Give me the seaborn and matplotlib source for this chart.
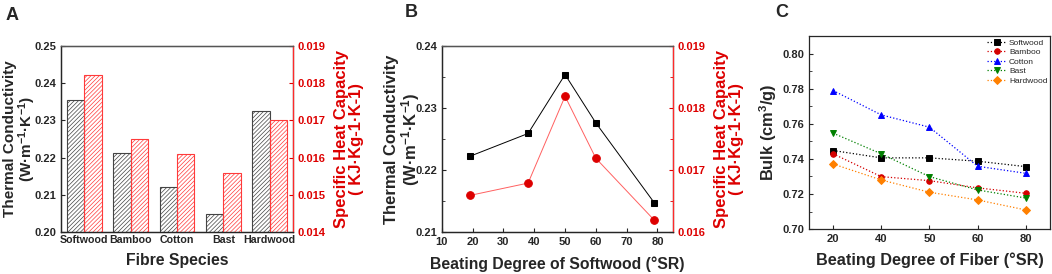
import numpy as np
import pandas as pd
import seaborn as sns
import matplotlib.pyplot as plt
from matplotlib.ticker import MultipleLocator, AutoMinorLocator, FormatStrFormatter

sns.set_style('ticks')
plt.rcParams['font.family'] = ['Liberation Sans', 'DejaVu Sans']
plt.rcParams['font.weight'] = 'bold'
plt.rcParams['axes.labelweight'] = 'bold'
plt.rcParams['mathtext.fontset'] = 'custom'
plt.rcParams['mathtext.rm'] = 'Liberation Sans:bold'
plt.rcParams['mathtext.bf'] = 'Liberation Sans:bold'
plt.rcParams['mathtext.default'] = 'rm'
plt.rcParams['xtick.direction'] = 'in'
plt.rcParams['ytick.direction'] = 'in'
plt.rcParams['hatch.linewidth'] = 0.5
plt.rcParams['axes.linewidth'] = 0.9

# data
species = ['Softwood', 'Bamboo', 'Cotton', 'Bast', 'Hardwood']
tc_species = [0.2354, 0.2212, 0.2122, 0.2049, 0.2326]
shc_species = [0.01822, 0.0165, 0.0161, 0.0156, 0.0170]

beat_sw = [19, 38, 50, 60, 79]
tc_beat = [0.2222, 0.2259, 0.2354, 0.2276, 0.2147]
shc_beat = [0.01659, 0.01679, 0.01819, 0.01719, 0.01619]

beat_deg = ['20', '40', '50', '60', '80']
bulk_softwood = [0.7448, 0.7406, 0.7406, 0.7387, 0.7356]
bulk_bamboo = [0.7429, 0.7299, 0.7276, 0.7235, 0.7204]
bulk_cotton = [0.7790, 0.7651, 0.7581, 0.7358, 0.7318]
bulk_bast = [0.7547, 0.7429, 0.7299, 0.7223, 0.7177]
bulk_hardwood = [0.7371, 0.7280, 0.7210, 0.7166, 0.7109]

RED = '#dd0000'
tick_fs = 8

fig = plt.figure(figsize=(10.52, 2.74), dpi=100)

# ---------- A ----------
axA = fig.add_axes([0.058, 0.153, 0.2205, 0.679])
axA2 = axA.twinx()
dfA = pd.DataFrame({'species': species * 2,
                    'kind': ['tc'] * 5 + ['shc'] * 5,
                    'value': tc_species + shc_species})
pal = {'tc': '#333333', 'shc': '#ff2a2a'}
sns.barplot(data=dfA[dfA.kind == 'tc'], x='species', y='value', hue='kind',
            hue_order=['tc', 'shc'], order=species, palette=pal, fill=False,
            dodge=True, width=0.75, legend=False, linewidth=0.8, ax=axA)
sns.barplot(data=dfA[dfA.kind == 'shc'], x='species', y='value', hue='kind',
            hue_order=['tc', 'shc'], order=species, palette=pal, fill=False,
            dodge=True, width=0.75, legend=False, linewidth=0.8, ax=axA2)
for ax, col in [(axA, '#444444'), (axA2, '#ff3a3a')]:
    for p in ax.patches:
        p.set_hatch('////////')
        p.set_edgecolor(col)
axA.set_ylim(0.20, 0.25)
axA2.set_ylim(0.014, 0.019)
axA.set_xlim(-0.5, 4.5)
axA.yaxis.set_major_locator(MultipleLocator(0.01))
axA.yaxis.set_major_formatter(FormatStrFormatter('%.2f'))
axA2.yaxis.set_major_locator(MultipleLocator(0.001))
axA2.yaxis.set_major_formatter(FormatStrFormatter('%.3f'))
axA.tick_params(axis='y', labelsize=tick_fs, length=3)
axA.tick_params(axis='x', labelsize=tick_fs - 0.3, length=0, pad=2)
axA2.tick_params(axis='y', labelsize=tick_fs, colors=RED, length=3)
axA2.spines['right'].set_color('#ff2a2a')
axA2.spines['top'].set_color('#555555')
axA.set_xlabel('Fibre Species', fontsize=11.3, labelpad=6)
axA.set_ylabel('Thermal Conductivity\n(W·m$^{-1}$·K$^{-1}$)', fontsize=11,
               linespacing=1.0, labelpad=-3)
axA2.set_ylabel('Specific Heat Capacity\n( KJ·Kg-1·K-1)', fontsize=12,
                color=RED, linespacing=1.0, labelpad=6)

# ---------- B ----------
axB = fig.add_axes([0.420, 0.153, 0.2196, 0.679])
axB2 = axB.twinx()
sns.lineplot(x=beat_sw, y=tc_beat, marker='s', color='black', markersize=5,
             markeredgecolor='black', linewidth=0.7, ax=axB)
sns.lineplot(x=beat_sw, y=shc_beat, marker='o', color='#ff6060', markersize=5.5,
             markerfacecolor=RED, markeredgecolor=RED, linewidth=0.7, ax=axB2)
axB.set_xlim(10, 85)
axB.set_ylim(0.21, 0.24)
axB2.set_ylim(0.016, 0.019)
axB.xaxis.set_major_locator(MultipleLocator(10))
axB.yaxis.set_major_locator(MultipleLocator(0.01))
axB.yaxis.set_minor_locator(AutoMinorLocator(2))
axB.yaxis.set_major_formatter(FormatStrFormatter('%.2f'))
axB2.yaxis.set_major_locator(MultipleLocator(0.001))
axB2.yaxis.set_minor_locator(AutoMinorLocator(2))
axB2.yaxis.set_major_formatter(FormatStrFormatter('%.3f'))
axB.tick_params(axis='both', labelsize=tick_fs, length=3)
axB.tick_params(axis='y', which='minor', length=2)
axB2.tick_params(axis='y', which='both', labelsize=tick_fs, colors=RED, length=3)
axB2.tick_params(axis='y', which='minor', length=2)
axB2.spines['right'].set_color('#ff2a2a')
axB2.spines['top'].set_color('#555555')
axB.set_xlabel('Beating Degree of Softwood (°SR)', fontsize=11.3, labelpad=7)
axB.set_ylabel('Thermal Conductivity\n(W·m$^{-1}$·K$^{-1}$)', fontsize=12,
               linespacing=1.0, labelpad=-5)
axB2.set_ylabel('Specific Heat Capacity\n( KJ·Kg-1·K-1)', fontsize=12,
                color=RED, linespacing=1.0, labelpad=6)

# ---------- C ----------
axC = fig.add_axes([0.769, 0.164, 0.229, 0.704])
fibres = ['Softwood', 'Bamboo', 'Cotton', 'Bast', 'Hardwood']
bulks = [bulk_softwood, bulk_bamboo, bulk_cotton, bulk_bast, bulk_hardwood]
dfC = pd.DataFrame({'fibre': np.repeat(fibres, len(beat_deg)),
                    'degree': beat_deg * len(fibres),
                    'bulk': np.concatenate(bulks)})
sns.pointplot(data=dfC, x='degree', y='bulk', hue='fibre', hue_order=fibres,
              order=beat_deg,
              palette=['black', '#d40000', '#0000ff', '#008000', '#ff8000'],
              markers=['s', 'o', '^', 'v', 'D'], linestyles=':',
              markersize=4, linewidth=0.9, errorbar=None, ax=axC)
axC.set_xlim(-0.5, 4.5)
axC.set_ylim(0.70, 0.81)
axC.yaxis.set_major_locator(MultipleLocator(0.02))
axC.yaxis.set_minor_locator(MultipleLocator(0.01))
axC.yaxis.set_major_formatter(FormatStrFormatter('%.2f'))
axC.tick_params(axis='both', labelsize=tick_fs, length=3)
axC.tick_params(axis='y', which='minor', length=2)
axC.set_xlabel('Beating Degree of Fiber (°SR)', fontsize=11.7, labelpad=6)
axC.set_ylabel('Bulk (cm$^{3}$/g)', fontsize=11.8, labelpad=2)
leg = axC.legend(loc='upper right', frameon=False,
                 prop={'weight': 'normal', 'size': 6},
                 handlelength=2.3, labelspacing=0.2, borderaxespad=0.1,
                 borderpad=0.2, handletextpad=0.3)
for ax in [axA, axB, axC]:
    for s in ['top', 'right']:
        ax.spines[s].set_visible(True)

# panel letters
fig.text(0.005, 0.975, 'A', fontsize=13, fontweight='bold', va='top')
fig.text(0.385, 0.985, 'B', fontsize=13, fontweight='bold', va='top')
fig.text(0.737, 0.985, 'C', fontsize=13, fontweight='bold', va='top')

fig.savefig('out.png', dpi=100)
